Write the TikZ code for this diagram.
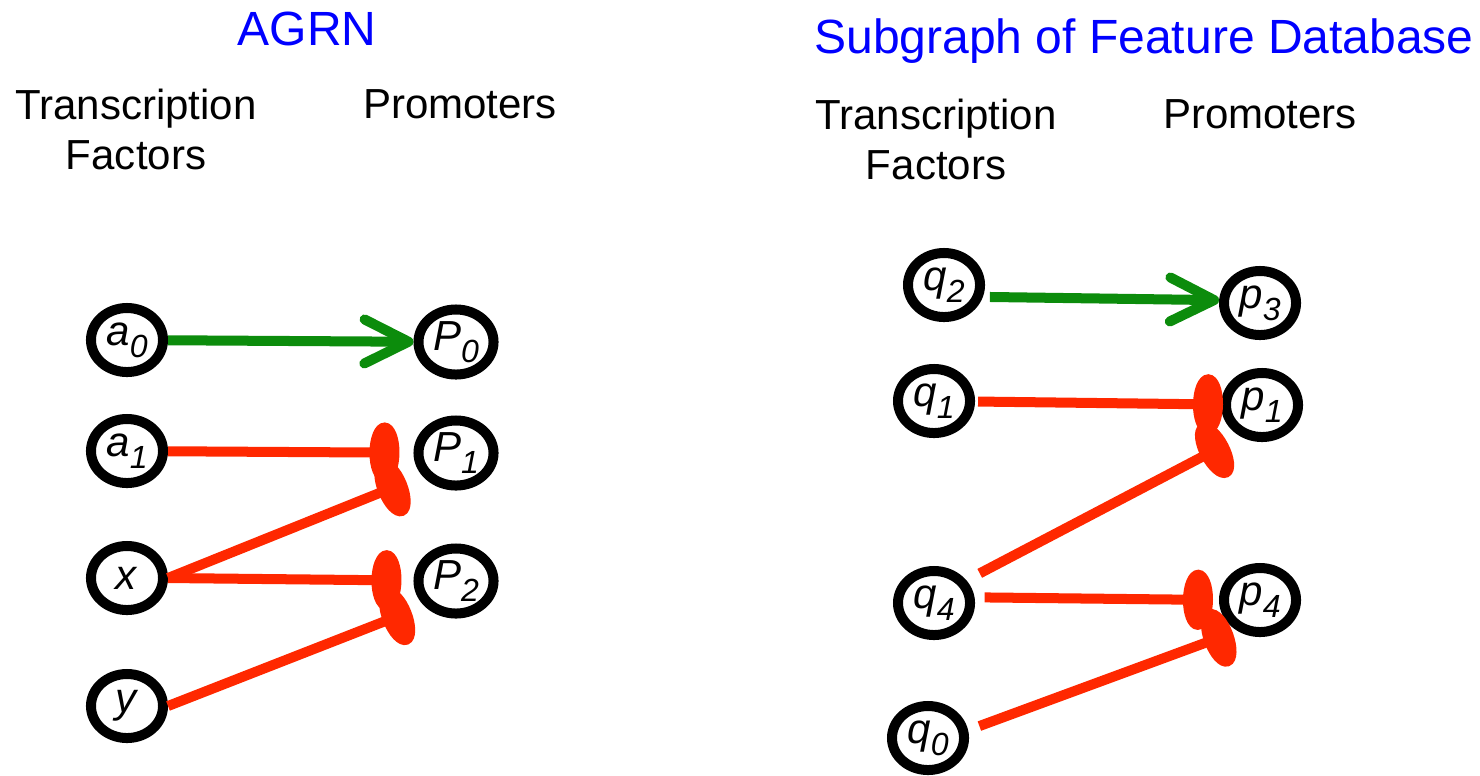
\documentclass[tikz,border=0pt]{standalone}
\usepackage{fontspec}
\setmainfont{Liberation Sans}
\usetikzlibrary{shapes.geometric,arrows.meta}

\definecolor{ActGreen}{RGB}{12,140,12}
\definecolor{RepRed}{RGB}{255,40,0}
\definecolor{TitleBlue}{RGB}{0,0,255}

% gene label with lowered subscript
\newcommand{\genelbl}[2]{\textit{#1}\raisebox{-0.12cm}{\fontsize{0.32cm}{0.32cm}\selectfont\textit{#2}}}

\begin{document}
\begin{tikzpicture}[x=0.01cm, y=-0.01cm,
  title/.style={text=TitleBlue, inner sep=0pt, font=\fontsize{0.48cm}{0.58cm}\selectfont},
  head/.style={inner sep=0pt, align=center, font=\fontsize{0.42cm}{0.5cm}\selectfont},
  tf/.style={ellipse, draw, line width=0.1cm, minimum width=0.72cm, minimum height=0.64cm,
    inner sep=0pt, font=\fontsize{0.42cm}{0.42cm}\selectfont},
  prom/.style={tf, minimum width=0.75cm, minimum height=0.65cm},
  activates/.style={draw=ActGreen, line width=0.1cm,
    -{Straight Barb[length=0.44cm, width=0.44cm, round]}},
  represses/.style={draw=RepRed, line width=0.1cm,
    -{Ellipse[length=0.3cm, width=0.6cm]}}]

\useasboundingbox (0,0) rectangle (1480,775);

% AGRN
\node[title, anchor=base] (agrn) at (307,45) {AGRN};
\node[head, anchor=north] (tfhead) at (136,88) {Transcription\\Factors};
\node[head, anchor=base] (promhead) at (460,118) {Promoters};

\node[tf] (a0) at (127,340) {\genelbl{a}{0}};
\node[tf] (a1) at (127,451) {\genelbl{a}{1}};
\node[tf] (x) at (127,578) {\textit{x}};
\node[tf] (y) at (127,706) {\textit{y}};

\node[prom] (P0) at (456,342) {\genelbl{P}{0}};
\node[prom] (P1) at (456,453) {\genelbl{P}{1}};
\node[prom] (P2) at (456,581) {\genelbl{P}{2}};

\draw[activates] (a0) -- (P0);
\draw[represses, shorten >=0.14cm] (a1) -- (P1);
\draw[represses, shorten >=0.17cm] (x.east) -- (P1.214);
\draw[represses, shorten >=0.12cm] (x.east) -- (P2);
\draw[represses, shorten >=0.14cm] (y.east) -- (P2.218);

% Subgraph of the feature database
\node[title, anchor=base] (sub) at (1144,53) {Subgraph of Feature Database};
\node[head, anchor=north] (tfhead2) at (936,98) {Transcription\\Factors};
\node[head, anchor=base] (promhead2) at (1260,128) {Promoters};

\node[tf] (q2) at (944,285) {\genelbl{q}{2}};
\node[tf] (q1) at (934,401) {\genelbl{q}{1}};
\node[tf] (q4) at (934,603) {\genelbl{q}{4}};
\node[tf] (q0) at (928,738) {\genelbl{q}{0}};

\node[tf] (p3) at (1260,303) {\genelbl{p}{3}};
\node[tf] (p1) at (1262,405) {\genelbl{p}{1}};
\node[tf] (p4) at (1260,600) {\genelbl{p}{4}};

\draw[activates, shorten <=0.07cm] (q2.-17) -- (p3.176);
\draw[represses, shorten <=0.03cm, shorten >=-0.02cm] (q1) -- (p1);
\draw[represses, shorten <=0.15cm, shorten >=0.145cm] (q4.35) -- (p1.236);
\draw[represses, shorten <=0.1cm, shorten >=0.06cm] (q4.8) -- (p4.west);
\draw[represses, shorten <=0.12cm, shorten >=0.05cm] (q0.11) -- (p4.234);

\end{tikzpicture}
\end{document}
